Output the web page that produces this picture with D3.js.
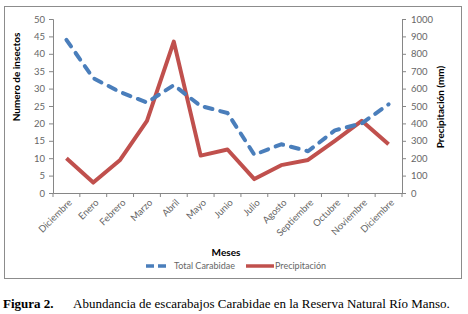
<!DOCTYPE html>
<html>
<head>
<meta charset="utf-8">
<script src="https://cdn.jsdelivr.net/npm/d3@7"></script>
<style>
  body { margin: 0; background: #fff; }
  svg text { font-family: Lato, "Open Sans", sans-serif; }
</style>
</head>
<body>
<div id="grafico"></div>
<script>
// Datos
var meses = ["Diciembre", "Enero", "Febrero", "Marzo", "Abril", "Mayo", "Junio",
  "Julio", "Agosto", "Septiembre", "Octubre", "Noviembre", "Diciembre"];
var totalCarabidae = [44, 33, 29, 26, 31, 25, 23, 11, 14, 12, 18, 20, 25.5];
var precipitacion = [200, 60, 190, 415, 870, 215, 250, 80, 160, 190, 300, 415, 280];
var ticksIzq = [0, 5, 10, 15, 20, 25, 30, 35, 40, 45, 50];
var ticksDer = [0, 100, 200, 300, 400, 500, 600, 700, 800, 900, 1000];

var width = 468, height = 314;
var margen = { izq: 53, der: 402, arriba: 19, abajo: 193 };
var gris = "#868686", texto = "#666";

var svg = d3.select("#grafico").append("svg")
  .attr("width", width).attr("height", height);

// Marco del grafico
svg.append("rect")
  .attr("x", 4.5).attr("y", 6.5).attr("width", 457).attr("height", 272)
  .attr("fill", "#fff").attr("stroke", "#8c8c8c").attr("stroke-width", 1);

// Escalas
var idx = meses.map(function (d, i) { return i; });
var x = d3.scaleBand().domain(idx).range([margen.izq, margen.der]);
var yIzq = d3.scaleLinear().domain([0, 50]).range([margen.abajo, margen.arriba]);
var yDer = d3.scaleLinear().domain([0, 1000]).range([margen.abajo, margen.arriba]);

// Eje izquierdo
var ejeIzq = svg.append("g")
  .attr("transform", "translate(" + margen.izq + ",0)")
  .call(d3.axisLeft(yIzq).tickValues(ticksIzq).tickSize(4).tickPadding(4));

// Eje derecho
var ejeDer = svg.append("g")
  .attr("transform", "translate(" + margen.der + ",0)")
  .call(d3.axisRight(yDer).tickValues(ticksDer).tickFormat(d3.format("d"))
    .tickSize(4).tickPadding(5));

// Eje X con marcas entre categorias
var ejeX = svg.append("g")
  .attr("transform", "translate(0," + margen.abajo + ")")
  .call(d3.axisBottom(x).tickSize(0).tickFormat(function (i) { return meses[i]; }));

ejeX.selectAll(".marca")
  .data(idx.concat([meses.length]))
  .enter().append("line")
  .attr("x1", function (i) { return i < meses.length ? x(i) : margen.der; })
  .attr("x2", function (i) { return i < meses.length ? x(i) : margen.der; })
  .attr("y1", 0).attr("y2", 4)
  .attr("stroke", gris);

ejeX.selectAll(".tick text")
  .attr("text-anchor", "end")
  .attr("dx", 0).attr("dy", 0)
  .attr("transform", "translate(4,8) rotate(-45)");

[ejeIzq, ejeDer, ejeX].forEach(function (g) {
  g.select(".domain").attr("stroke", gris);
  g.selectAll(".tick line").attr("stroke", gris);
  g.selectAll(".tick text").attr("fill", texto).style("font-size", "9.5px");
});

// Lineas
var cx = function (d, i) { return x(i) + x.bandwidth() / 2; };

svg.append("path")
  .datum(precipitacion)
  .attr("fill", "none")
  .attr("stroke", "#c0504d")
  .attr("stroke-width", 4)
  .attr("stroke-linejoin", "round")
  .attr("d", d3.line().x(cx).y(function (d) { return yDer(d); }));

svg.append("path")
  .datum(totalCarabidae)
  .attr("fill", "none")
  .attr("stroke", "#4a7ebb")
  .attr("stroke-width", 4)
  .attr("stroke-linecap", "round")
  .attr("stroke-linejoin", "round")
  .attr("stroke-dasharray", "8,8")
  .attr("d", d3.line().x(cx).y(function (d) { return yIzq(d); }));

// Titulos de ejes
svg.append("text")
  .attr("transform", "translate(20,77) rotate(-90)")
  .attr("text-anchor", "middle")
  .style("font-size", "10px").style("font-weight", "bold")
  .text("Numero de insectos");

svg.append("text")
  .attr("transform", "translate(444,107) rotate(-90)")
  .attr("text-anchor", "middle")
  .style("font-size", "10px").style("font-weight", "bold")
  .text("Precipitación (mm)");

svg.append("text")
  .attr("x", 226).attr("y", 256)
  .attr("text-anchor", "middle")
  .style("font-size", "10px").style("font-weight", "bold")
  .text("Meses");

// Leyenda
var leyenda = svg.append("g").attr("transform", "translate(0,266)");
leyenda.append("line")
  .attr("x1", 146).attr("x2", 168).attr("y1", 0).attr("y2", 0)
  .attr("stroke", "#4a7ebb").attr("stroke-width", 3.5)
  .attr("stroke-dasharray", "8,4");
leyenda.append("text")
  .attr("x", 174).attr("y", 3)
  .attr("fill", texto).style("font-size", "9px")
  .text("Total Carabidae");
leyenda.append("line")
  .attr("x1", 246).attr("x2", 274).attr("y1", 0).attr("y2", 0)
  .attr("stroke", "#c0504d").attr("stroke-width", 3.5);
leyenda.append("text")
  .attr("x", 275).attr("y", 3)
  .attr("fill", texto).style("font-size", "9px")
  .text("Precipitación");

// Pie de figura
svg.append("text")
  .attr("x", 3).attr("y", 308)
  .style("font-family", "'Liberation Serif', serif")
  .style("font-size", "13px").style("font-weight", "bold")
  .text("Figura 2.");
svg.append("text")
  .attr("x", 73).attr("y", 308)
  .style("font-family", "'Liberation Serif', serif")
  .style("font-size", "13px")
  .text("Abundancia de escarabajos Carabidae en la Reserva Natural Río Manso.");
</script>
</body>
</html>
